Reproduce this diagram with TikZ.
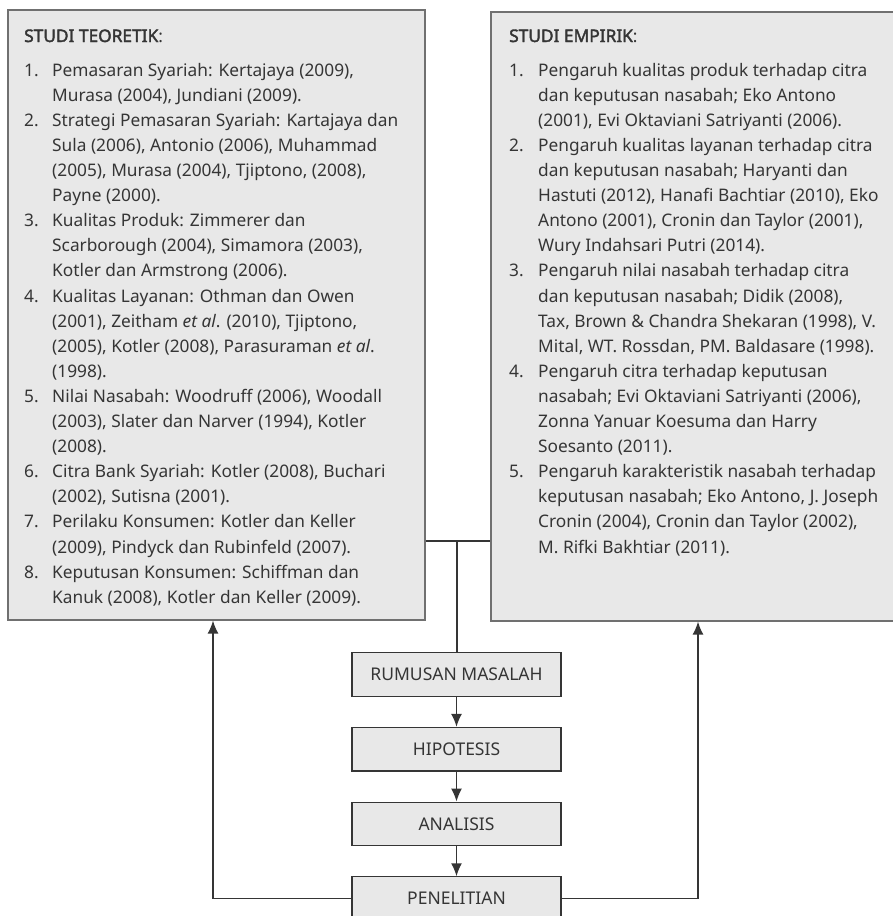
\documentclass[tikz,border=0pt]{standalone}
\usepackage{fontspec}
\setmainfont{Noto Sans}[BoldFont={Noto Sans}, BoldFeatures={FakeBold=2.2}]
\usetikzlibrary{arrows.meta,positioning}
\definecolor{boxfill}{HTML}{E8E8E8}
\definecolor{boxline}{HTML}{707070}
\definecolor{inkgray}{HTML}{353535}
\tikzset{
  studibox/.style={draw=boxline, line width=1.6pt, fill=boxfill, anchor=north west, inner sep=0pt},
  langkah/.style={draw=inkgray, line width=1.2pt, fill=boxfill, minimum width=209pt, minimum height=43.5pt, inner sep=0pt, text=inkgray, font=\fontsize{17.5}{20}\selectfont},
  alur/.style={draw=inkgray, line width=1.5pt},
  panah/.style={alur, -{Latex[length=13pt,width=11pt]}},
  daftar/.style={anchor=base west, inner sep=0pt, text=inkgray, font=\fontsize{17.3}{25.1}\selectfont}
}
\begin{document}
\begin{tikzpicture}[x=1pt,y=-1pt,node distance=30pt]
	\clip (0,0) rectangle (893,916);
	%KOTAK STUDI
	\node[studibox, minimum width=417pt, minimum height=610pt] (teori) at (7,9) {};
	\node[studibox, minimum width=420pt, minimum height=609pt] (empiris) at (490,11) {};
	\node[daftar] (teori-isi) at (24,42) {\begin{tabular}[t]{@{}p{28pt}@{}l@{}}
		\multicolumn{2}{@{}l@{}}{\textbf{STUDI TEORETIK}:}\\[9pt]
		1. & Pemasaran Syariah: Kertajaya (2009),\\
		   & Murasa (2004), Jundiani (2009).\\
		2. & Strategi Pemasaran Syariah: Kartajaya dan\\
		   & Sula (2006), Antonio (2006), Muhammad\\
		   & (2005), Murasa (2004), Tjiptono, (2008),\\
		   & Payne (2000).\\
		3. & Kualitas Produk: Zimmerer dan\\
		   & Scarborough (2004), Simamora (2003),\\
		   & Kotler dan Armstrong (2006).\\
		4. & Kualitas Layanan: Othman dan Owen\\
		   & (2001), Zeitham \textit{et al}. (2010), Tjiptono,\\
		   & (2005), Kotler (2008), Parasuraman \textit{et al}.\\
		   & (1998).\\
		5. & Nilai Nasabah: Woodruff (2006), Woodall\\
		   & (2003), Slater dan Narver (1994), Kotler\\
		   & (2008).\\
		6. & Citra Bank Syariah: Kotler (2008), Buchari\\
		   & (2002), Sutisna (2001).\\
		7. & Perilaku Konsumen: Kotler dan Keller\\
		   & (2009), Pindyck dan Rubinfeld (2007).\\
		8. & Keputusan Konsumen: Schiffman dan\\
		   & Kanuk (2008), Kotler dan Keller (2009).
		\end{tabular}};
	\node[daftar] (empiris-isi) at (509,42) {\begin{tabular}[t]{@{}p{29pt}@{}l@{}}
		\multicolumn{2}{@{}l@{}}{\textbf{STUDI EMPIRIK}:}\\[9pt]
		1. & Pengaruh kualitas produk terhadap citra\\
		   & dan keputusan nasabah; Eko Antono\\
		   & (2001), Evi Oktaviani Satriyanti (2006).\\
		2. & Pengaruh kualitas layanan terhadap citra\\
		   & dan keputusan nasabah; Haryanti dan\\
		   & Hastuti (2012), Hanafi Bachtiar (2010), Eko\\
		   & Antono (2001), Cronin dan Taylor (2001),\\
		   & Wury Indahsari Putri (2014).\\
		3. & Pengaruh nilai nasabah terhadap citra\\
		   & dan keputusan nasabah; Didik (2008),\\
		   & Tax, Brown \& Chandra Shekaran (1998), V.\\
		   & Mital, WT. Rossdan, PM. Baldasare (1998).\\
		4. & Pengaruh citra terhadap keputusan\\
		   & nasabah; Evi Oktaviani Satriyanti (2006),\\
		   & Zonna Yanuar Koesuma dan Harry\\
		   & Soesanto (2011).\\
		5. & Pengaruh karakteristik nasabah terhadap\\
		   & keputusan nasabah; Eko Antono, J. Joseph\\
		   & Cronin (2004), Cronin dan Taylor (2002),\\
		   & M. Rifki Bakhtiar (2011).
		\end{tabular}};
	%ALUR PENELITIAN
	\node[langkah] (rumusan) at (456.5,674.5) {RUMUSAN MASALAH};
	\node[langkah, below=of rumusan] (hipotesis) {HIPOTESIS};
	\node[langkah, below=of hipotesis] (analisis) {ANALISIS};
	\node[langkah, below=of analisis] (penelitian) {PENELITIAN};
	\coordinate (simpul) at (457,541);
	\coordinate (kiri) at (213,0);
	\coordinate (kanan) at (698,0);
	\draw[alur] (teori.east |- simpul) -- (empiris.west |- simpul);
	\draw[alur] (simpul) -- (rumusan.north -| simpul);
	\draw[panah] (rumusan) -- (hipotesis);
	\draw[panah] (hipotesis) -- (analisis);
	\draw[panah] (analisis) -- (penelitian);
	\draw[panah] (penelitian.west) -| (kiri |- teori.south);
	\draw[panah] (penelitian.east) -| (kanan |- empiris.south);
\end{tikzpicture}
\end{document}
